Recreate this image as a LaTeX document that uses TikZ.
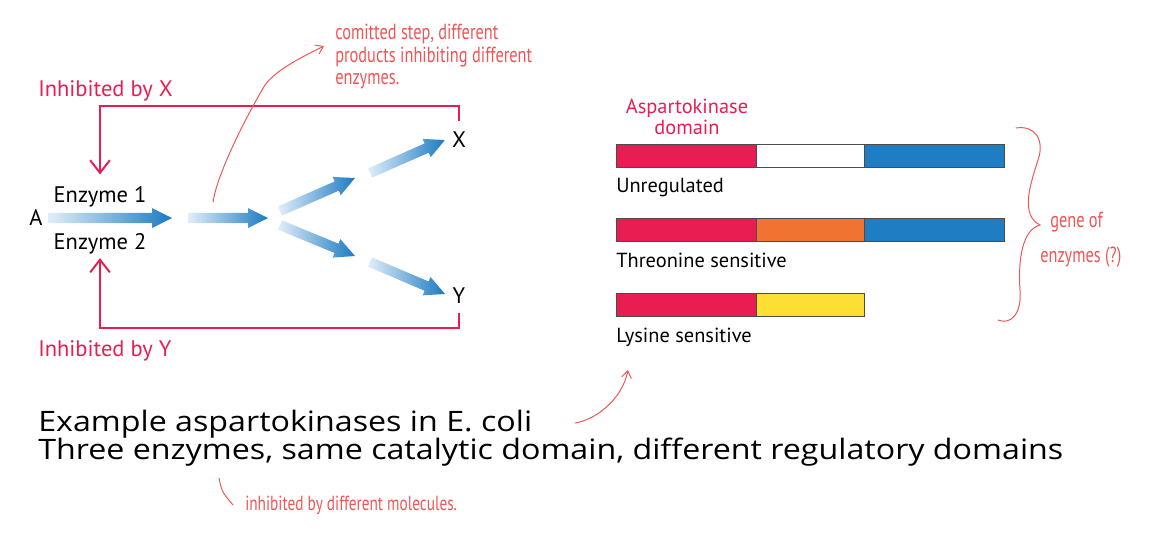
\documentclass[tikz,border=0pt]{standalone}
\usepackage{fontspec}
\setmainfont{PT Sans}
\newfontfamily\titlefont[FakeStretch=1.145]{Open Sans}
\newfontfamily\handfont[FakeStretch=0.75]{PT Sans}
\usetikzlibrary{calc,arrows.meta}
\usepackage{xcolor}
\definecolor{akred}{RGB}{232,30,82}
\definecolor{flowblue}{RGB}{28,122,192}
\definecolor{flowlight}{RGB}{225,238,250}
\definecolor{barblue}{RGB}{30,125,195}
\definecolor{barorange}{RGB}{240,115,50}
\definecolor{baryellow}{RGB}{253,222,50}
\definecolor{handred}{RGB}{240,85,85}

\tikzset{
  lab/.style={inner sep=0pt, font=\fontsize{16}{19}\selectfont},
  inh/.style={inner sep=0pt, text=akred, font=\fontsize{16}{19}\selectfont},
  barlab/.style={inner sep=0pt, font=\fontsize{14.5}{17}\selectfont},
  inhline/.style={draw=akred, line width=1.4pt, -{Straight Barb[length=9pt,width=14pt]}},
  bar/.style={draw=black!70, line width=0.6pt},
  hand/.style={inner sep=0pt, text=handred, font=\handfont\fontsize{15.5}{16}\selectfont},
  handline/.style={draw=handred, line width=0.7pt, line cap=round},
  title/.style={inner sep=0pt, font=\titlefont\fontsize{20}{20}\selectfont}
}

% shaded block arrow between two named coordinates
\newcommand{\flowarrow}[2]{%
  \path let \p1=($(#2)-(#1)$) in
    \pgfextra{\pgfmathparse{atan2(\y1,\x1)}\xdef\flowang{\pgfmathresult}%
      \pgfmathparse{veclen(\x1,\y1)}\xdef\flowlen{\pgfmathresult}%
      \pgfmathparse{\flowlen-14.2}\xdef\flowneck{\pgfmathresult}};
  \begin{scope}[shift={(#1)}, rotate=\flowang]
    \shade[left color=flowlight, right color=flowblue]
      (0pt,-3.6pt) -- (\flowneck pt,-3.6pt) -- (\flowneck pt,-7.1pt) -- (\flowlen pt,0pt)
      -- (\flowneck pt,7.1pt) -- (\flowneck pt,3.6pt) -- (0pt,3.6pt) -- cycle;
  \end{scope}}

\begin{document}
\begin{tikzpicture}[x=0.025cm, y=-0.025cm]
  \useasboundingbox (0,0) rectangle (1168,532);

  % pathway labels
  \node[lab, anchor=base] (A) at (36,225) {A};
  \node[lab, anchor=base] (e1) at (100,202) {Enzyme 1};
  \node[lab, anchor=base] (e2) at (100,249) {Enzyme 2};
  \node[lab, anchor=base] (X) at (459,147) {X};
  \node[lab, anchor=base] (Y) at (459,303) {Y};
  \node[inh, anchor=base west] (inhX) at (38,96) {Inhibited by X};
  \node[inh, anchor=base west] (inhY) at (38,356) {Inhibited by Y};

  % feedback inhibition
  \draw[inhline, shorten <=7pt, shorten >=8pt] (X.north) -- ++(0,-25) -| (e1.north);
  \draw[inhline, shorten <=7pt, shorten >=3pt] (Y.south) -- ++(0,25) -| (e2.south);

  % flow arrows
  \coordinate (f1a) at (48,218);  \coordinate (f1b) at (172,218);
  \coordinate (f2a) at (188,218); \coordinate (f2b) at (268,218);
  \coordinate (f3a) at (280,211); \coordinate (f3b) at (355,178);
  \coordinate (f4a) at (370,173); \coordinate (f4b) at (445,140);
  \coordinate (f5a) at (280,225); \coordinate (f5b) at (355,256);
  \coordinate (f6a) at (370,262); \coordinate (f6b) at (445,294);
  \flowarrow{f1a}{f1b}
  \flowarrow{f2a}{f2b}
  \flowarrow{f3a}{f3b}
  \flowarrow{f4a}{f4b}
  \flowarrow{f5a}{f5b}
  \flowarrow{f6a}{f6b}

  % domain bars
  \foreach \y in {144,218,293}
    \draw[bar, fill=akred] (616,\y) rectangle (756,\y+23);
  \draw[bar, fill=white] (756,144) rectangle (864,167);
  \draw[bar, fill=barblue] (864,144) rectangle (1004,167);
  \draw[bar, fill=barorange] (756,218) rectangle (864,241);
  \draw[bar, fill=barblue] (864,218) rectangle (1004,241);
  \draw[bar, fill=baryellow] (756,293) rectangle (864,316);

  \node[barlab, text=akred, anchor=base] (akd1) at (687,113) {Aspartokinase};
  \node[barlab, text=akred, anchor=base] (akd2) at (687,134) {domain};
  \node[barlab, anchor=base west] (unreg) at (616,192) {Unregulated};
  \node[barlab, anchor=base west] (thr) at (616,267) {Threonine sensitive};
  \node[barlab, anchor=base west] (lys) at (616,342) {Lysine sensitive};

  % handwritten notes
  \node[hand, anchor=north west, align=left] (note1) at (335,24)
    {comitted step, different\\products inhibiting different\\enzymes.};
  \coordinate (n1a) at (213,202);
  \coordinate (n1b) at (324,46);
  \draw[handline, -{Straight Barb[length=5pt,width=7pt]}] (n1a)
    .. controls (218,170) and (250,110) .. (265,85)
    .. controls (276,70) and (300,58) .. (n1b);

  \draw[handline] (1016,128) .. controls (1035,125) and (1045,140) .. (1038,160)
    .. controls (1030,185) and (1020,215) .. (1040,225)
    .. controls (1022,230) and (1018,260) .. (1020,290)
    .. controls (1022,315) and (1010,325) .. (998,320);
  \node[hand, anchor=west] (gene1) at (1050,222) {gene of};
  \node[hand, anchor=west] (gene2) at (1040,257) {enzymes (?)};

  \coordinate (n2a) at (575,423);
  \coordinate (n2b) at (628,370);
  \draw[handline, -{Straight Barb[length=5pt,width=7pt]}] (n2a)
    .. controls (595,420) and (622,400) .. (n2b);

  \node[hand, anchor=west, font=\handfont\fontsize{14.5}{16}\selectfont] (note3) at (245,505)
    {inhibited by different molecules.};
  \coordinate (n3a) at (219,478);
  \coordinate (n3b) at (233,505);
  \draw[handline] (n3a) .. controls (222,492) .. (n3b);

  % caption
  \node[title, anchor=base west] (cap1) at (38,431) {Example aspartokinases in E. coli};
  \node[title, anchor=base west] (cap2) at (38,459) {Three enzymes, same catalytic domain, different regulatory domains};
\end{tikzpicture}
\end{document}
